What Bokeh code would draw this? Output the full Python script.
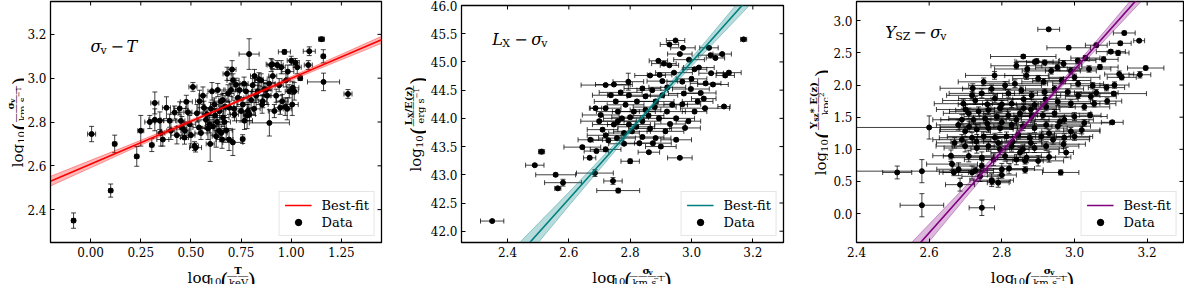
import numpy as np
from bokeh.plotting import figure
from bokeh.models import (ColumnDataSource, Range1d, FixedTicker, PrintfTickFormatter,
                          Label, Legend, LegendItem)
from bokeh.layouts import row, column
from bokeh.embed import file_html
from bokeh.resources import INLINE

# ---------------- data ----------------
# panel 1: sigma_v - T   (log T/keV, log sigma, xerr, yerr)
sigT_points = [
    (-0.085, 2.350, 0.010, 0.035), (0.005, 2.745, 0.020, 0.035), (0.100, 2.487, 0.010, 0.030),
    (0.120, 2.700, 0.010, 0.040), (0.230, 2.643, 0.010, 0.045), (0.250, 2.760, 0.015, 0.070),
    (0.295, 2.800, 0.025, 0.030), (0.305, 2.695, 0.010, 0.030), (0.320, 2.887, 0.020, 0.050),
    (0.320, 2.810, 0.030, 0.050), (0.345, 2.806, 0.020, 0.040), (0.350, 2.750, 0.020, 0.060),
    (0.360, 2.720, 0.030, 0.030), (0.378, 2.865, 0.020, 0.050), (0.394, 2.806, 0.030, 0.030),
    (0.400, 2.760, 0.020, 0.040), (0.419, 2.843, 0.020, 0.030), (0.430, 2.740, 0.030, 0.040),
    (0.444, 2.862, 0.030, 0.030), (0.450, 2.805, 0.020, 0.040), (0.455, 2.775, 0.025, 0.050),
    (0.468, 2.729, 0.020, 0.030), (0.477, 2.892, 0.030, 0.030), (0.485, 2.845, 0.020, 0.050),
    (0.494, 2.790, 0.030, 0.040), (0.510, 2.960, 0.020, 0.020), (0.518, 2.690, 0.020, 0.020),
    (0.523, 2.683, 0.030, 0.020), (0.530, 2.840, 0.030, 0.040), (0.543, 2.895, 0.020, 0.050),
    (0.550, 2.750, 0.030, 0.030), (0.560, 2.920, 0.020, 0.040), (0.565, 2.865, 0.030, 0.030),
    (0.575, 2.810, 0.040, 0.040), (0.580, 2.835, 0.020, 0.030), (0.585, 2.770, 0.030, 0.050),
    (0.593, 2.790, 0.020, 0.040), (0.596, 2.700, 0.020, 0.080), (0.600, 2.860, 0.030, 0.030),
    (0.605, 2.940, 0.020, 0.040), (0.610, 2.780, 0.030, 0.040), (0.618, 2.880, 0.020, 0.030),
    (0.620, 2.830, 0.040, 0.030), (0.626, 2.735, 0.020, 0.050), (0.630, 2.800, 0.030, 0.040),
    (0.634, 2.946, 0.030, 0.030), (0.640, 2.760, 0.020, 0.030), (0.643, 2.850, 0.020, 0.040),
    (0.650, 2.895, 0.040, 0.030), (0.651, 2.750, 0.030, 0.040), (0.659, 2.900, 0.020, 0.030),
    (0.660, 2.820, 0.030, 0.040), (0.667, 2.800, 0.030, 0.030), (0.670, 2.870, 0.020, 0.050),
    (0.676, 2.762, 0.030, 0.040), (0.680, 3.020, 0.020, 0.030), (0.685, 2.930, 0.030, 0.040),
    (0.692, 2.865, 0.020, 0.030), (0.700, 2.946, 0.030, 0.030), (0.705, 3.040, 0.020, 0.040),
    (0.709, 2.707, 0.050, 0.060), (0.710, 2.990, 0.030, 0.030), (0.715, 2.860, 0.040, 0.040),
    (0.717, 2.835, 0.020, 0.030), (0.725, 2.970, 0.030, 0.030), (0.734, 2.910, 0.030, 0.040),
    (0.742, 2.946, 0.020, 0.030), (0.750, 2.850, 0.030, 0.050), (0.758, 2.722, 0.010, 0.020),
    (0.759, 2.880, 0.030, 0.030), (0.765, 2.975, 0.020, 0.030), (0.767, 2.806, 0.040, 0.040),
    (0.775, 2.940, 0.030, 0.030), (0.780, 2.830, 0.020, 0.060), (0.784, 2.850, 0.030, 0.030),
    (0.790, 3.110, 0.050, 0.070), (0.792, 2.835, 0.030, 0.030), (0.800, 2.900, 0.020, 0.040),
    (0.808, 2.968, 0.030, 0.030), (0.815, 2.860, 0.030, 0.030), (0.817, 3.010, 0.020, 0.030),
    (0.825, 2.920, 0.040, 0.030), (0.833, 2.940, 0.030, 0.040), (0.840, 2.995, 0.020, 0.030),
    (0.850, 2.990, 0.030, 0.030), (0.855, 2.880, 0.030, 0.040), (0.858, 2.895, 0.020, 0.030),
    (0.865, 2.950, 0.030, 0.030), (0.874, 2.946, 0.030, 0.030), (0.880, 2.920, 0.020, 0.040),
    (0.890, 2.975, 0.030, 0.030), (0.891, 2.796, 0.100, 0.060), (0.900, 3.060, 0.020, 0.030),
    (0.905, 3.064, 0.030, 0.020), (0.908, 3.010, 0.020, 0.030), (0.916, 2.850, 0.030, 0.030),
    (0.925, 2.920, 0.030, 0.030), (0.930, 3.060, 0.030, 0.020), (0.940, 2.968, 0.020, 0.030),
    (0.945, 2.865, 0.030, 0.030), (0.950, 3.050, 0.020, 0.030), (0.955, 2.895, 0.030, 0.030),
    (0.966, 3.120, 0.030, 0.010), (0.970, 2.870, 0.030, 0.040), (0.974, 2.990, 0.020, 0.030),
    (0.980, 2.860, 0.020, 0.050), (0.983, 3.030, 0.030, 0.030), (0.990, 2.940, 0.020, 0.030),
    (1.000, 3.080, 0.020, 0.020), (1.005, 2.880, 0.030, 0.050), (1.008, 2.956, 0.030, 0.030),
    (1.015, 2.940, 0.020, 0.040), (1.020, 3.070, 0.020, 0.020), (1.030, 3.050, 0.020, 0.030),
    (1.045, 3.000, 0.010, 0.010), (1.085, 3.060, 0.020, 0.020), (1.090, 3.123, 0.030, 0.020),
    (1.151, 3.178, 0.015, 0.010), (1.160, 3.100, 0.010, 0.030), (1.161, 2.983, 0.080, 0.040),
    (1.283, 2.928, 0.020, 0.020), (0.500, 2.740, 0.020, 0.040), (0.540, 2.775, 0.030, 0.030),
    (0.470, 2.760, 0.020, 0.040), (0.655, 2.720, 0.030, 0.040), (0.690, 2.720, 0.020, 0.050),
]

# panel 2: L_X - sigma_v   (log sigma, log Lx/E(z), xerr, yerr)
lxs_points = [
    (2.350, 42.18, 0.038, 0.02), (2.511, 43.41, 0.010, 0.04), (2.489, 43.17, 0.030, 0.02),
    (2.557, 43.00, 0.065, 0.03), (2.581, 42.86, 0.060, 0.06), (2.564, 42.76, 0.010, 0.03),
    (2.685, 43.03, 0.060, 0.06), (2.744, 42.89, 0.030, 0.06), (2.761, 42.72, 0.070, 0.04),
    (2.800, 43.24, 0.030, 0.04), (2.861, 43.40, 0.035, 0.02), (2.962, 43.30, 0.040, 0.02),
    (3.170, 45.40, 0.010, 0.03), (2.948, 45.38, 0.030, 0.02), (2.928, 45.31, 0.030, 0.02),
    (2.972, 45.25, 0.040, 0.02), (2.962, 45.14, 0.040, 0.02), (3.057, 45.25, 0.030, 0.02),
    (3.100, 45.14, 0.030, 0.02), (3.078, 45.07, 0.030, 0.02), (3.062, 45.12, 0.040, 0.02),
    (2.892, 45.02, 0.030, 0.02), (2.910, 44.97, 0.040, 0.02), (2.928, 44.94, 0.030, 0.02),
    (2.992, 45.04, 0.050, 0.02), (3.024, 44.90, 0.050, 0.02), (3.010, 44.87, 0.040, 0.02),
    (2.943, 44.81, 0.060, 0.02), (2.865, 44.76, 0.050, 0.02), (2.896, 44.77, 0.040, 0.02),
    (3.064, 44.80, 0.040, 0.02), (3.122, 44.81, 0.040, 0.03), (3.110, 44.76, 0.030, 0.03),
    (2.720, 44.59, 0.080, 0.02), (2.747, 44.60, 0.060, 0.02), (2.794, 44.65, 0.050, 0.15),
    (2.769, 44.46, 0.070, 0.03), (2.687, 44.18, 0.020, 0.03), (3.106, 44.21, 0.020, 0.02),
    (3.044, 44.18, 0.080, 0.02), (2.979, 43.83, 0.050, 0.02), (2.729, 43.61, 0.050, 0.03),
    (2.699, 43.95, 0.060, 0.03), (2.644, 43.49, 0.060, 0.03), (2.668, 43.30, 0.020, 0.03),
    (2.690, 43.42, 0.040, 0.03), (2.720, 43.45, 0.050, 0.04), (2.710, 43.80, 0.050, 0.03),
    (2.747, 43.89, 0.070, 0.03), (2.773, 44.00, 0.060, 0.03), (2.812, 44.12, 0.070, 0.03),
    (2.840, 43.95, 0.060, 0.03), (2.865, 43.82, 0.070, 0.03), (2.894, 44.00, 0.050, 0.03),
    (2.920, 44.12, 0.060, 0.03), (2.937, 44.24, 0.050, 0.03), (2.975, 44.44, 0.050, 0.03),
    (2.998, 44.52, 0.060, 0.03), (3.020, 44.30, 0.050, 0.03), (3.010, 44.12, 0.040, 0.03),
    (2.950, 44.00, 0.060, 0.03), (2.915, 43.77, 0.060, 0.03), (2.883, 43.65, 0.050, 0.03),
    (2.840, 43.67, 0.070, 0.03), (2.806, 43.77, 0.060, 0.03), (2.780, 43.74, 0.050, 0.03),
    (2.757, 43.65, 0.060, 0.03), (2.830, 43.56, 0.050, 0.03), (2.874, 43.56, 0.060, 0.03),
    (2.760, 44.12, 0.070, 0.03), (2.785, 44.24, 0.060, 0.03), (2.822, 44.30, 0.070, 0.03),
    (2.850, 44.39, 0.060, 0.03), (2.872, 44.50, 0.050, 0.03), (2.840, 44.53, 0.060, 0.03),
    (2.796, 44.41, 0.070, 0.03), (2.883, 44.30, 0.060, 0.03), (2.905, 44.41, 0.050, 0.03),
    (2.921, 44.55, 0.060, 0.03), (2.905, 44.66, 0.050, 0.03), (3.046, 44.62, 0.050, 0.03),
    (2.737, 44.41, 0.060, 0.03), (2.753, 44.30, 0.070, 0.03), (2.720, 44.18, 0.050, 0.03),
    (2.704, 44.06, 0.060, 0.03), (2.760, 43.95, 0.060, 0.03), (2.796, 43.89, 0.070, 0.03),
    (2.900, 43.50, 0.050, 0.03), (2.950, 43.62, 0.050, 0.03), (2.990, 43.95, 0.040, 0.03),
    (3.030, 44.45, 0.050, 0.03), (3.070, 44.60, 0.050, 0.03), (2.970, 44.65, 0.050, 0.03),
    (2.860, 44.05, 0.050, 0.03), (2.820, 43.85, 0.060, 0.03), (2.930, 43.90, 0.050, 0.03),
    (2.970, 44.25, 0.060, 0.03), (2.800, 44.02, 0.060, 0.03), (2.880, 44.20, 0.070, 0.03),
    (2.850, 44.15, 0.050, 0.03), (2.780, 43.55, 0.050, 0.03), (2.720, 43.70, 0.060, 0.03),
    (2.670, 43.62, 0.040, 0.03), (3.000, 44.70, 0.050, 0.03), (3.040, 44.35, 0.040, 0.03),
]

# panel 3: Y_SZ - sigma_v   (log sigma, log Ysz E(z), xerr, yerr)
ysz_points = [
    (2.929, 2.867, 0.030, 0.02), (3.137, 2.810, 0.030, 0.03), (3.178, 2.690, 0.015, 0.02),
    (3.126, 2.650, 0.030, 0.03), (2.984, 2.580, 0.060, 0.03), (3.060, 2.620, 0.030, 0.03),
    (3.100, 2.520, 0.040, 0.03), (2.859, 2.444, 0.090, 0.03), (2.891, 2.360, 0.050, 0.03),
    (3.196, 2.265, 0.050, 0.03), (3.123, 2.170, 0.040, 0.05), (3.180, 2.160, 0.030, 0.05),
    (3.108, 1.867, 0.090, 0.03), (3.104, 1.420, 0.030, 0.03), (3.043, 1.530, 0.030, 0.04),
    (2.977, 0.950, 0.020, 0.08), (2.962, 0.640, 0.050, 0.04), (2.600, 1.340, 0.230, 0.18),
    (2.512, 0.640, 0.040, 0.10), (2.580, 0.660, 0.180, 0.18), (2.580, 0.130, 0.060, 0.18),
    (2.745, 0.090, 0.035, 0.12), (2.685, 0.450, 0.040, 0.10), (2.790, 0.480, 0.030, 0.07),
    (2.773, 0.500, 0.050, 0.05), (2.668, 0.640, 0.040, 0.05), (2.727, 0.670, 0.050, 0.05),
    (2.800, 0.600, 0.040, 0.05), (2.864, 0.680, 0.050, 0.05), (2.864, 0.820, 0.050, 0.05),
    (2.953, 2.276, 0.060, 0.05), (2.970, 2.330, 0.050, 0.05), (3.009, 2.380, 0.050, 0.04),
    (3.030, 2.420, 0.040, 0.04), (2.990, 2.220, 0.070, 0.05), (2.936, 2.220, 0.080, 0.05),
    (2.868, 2.147, 0.060, 0.06), (2.900, 2.100, 0.070, 0.05), (2.836, 2.020, 0.090, 0.06),
    (2.915, 2.050, 0.060, 0.05), (2.965, 2.070, 0.080, 0.05), (3.010, 2.020, 0.070, 0.05),
    (3.050, 1.990, 0.060, 0.05), (3.088, 1.960, 0.050, 0.05), (3.130, 2.120, 0.040, 0.04),
    (2.809, 1.994, 0.100, 0.06), (2.772, 1.940, 0.080, 0.06), (2.745, 1.870, 0.090, 0.07),
    (2.718, 1.840, 0.070, 0.06), (2.694, 1.710, 0.080, 0.07), (2.727, 1.760, 0.090, 0.06),
    (2.781, 1.790, 0.100, 0.06), (2.818, 1.870, 0.080, 0.06), (2.854, 1.920, 0.090, 0.05),
    (2.882, 1.840, 0.080, 0.06), (2.918, 1.890, 0.070, 0.05), (2.945, 1.940, 0.080, 0.05),
    (2.981, 1.890, 0.070, 0.05), (3.010, 1.840, 0.060, 0.05), (3.045, 1.820, 0.070, 0.05),
    (3.054, 1.710, 0.060, 0.05), (3.027, 1.660, 0.070, 0.05), (2.990, 1.710, 0.080, 0.06),
    (2.954, 1.740, 0.090, 0.06), (2.922, 1.660, 0.080, 0.06), (2.890, 1.690, 0.100, 0.06),
    (2.860, 1.640, 0.090, 0.06), (2.827, 1.710, 0.080, 0.06), (2.795, 1.640, 0.100, 0.07),
    (2.763, 1.610, 0.090, 0.07), (2.736, 1.590, 0.080, 0.07), (2.709, 1.560, 0.070, 0.08),
    (2.690, 1.460, 0.080, 0.08), (2.722, 1.460, 0.090, 0.07), (2.754, 1.480, 0.100, 0.07),
    (2.786, 1.510, 0.090, 0.06), (2.818, 1.530, 0.080, 0.06), (2.850, 1.560, 0.100, 0.06),
    (2.882, 1.510, 0.090, 0.06), (2.913, 1.530, 0.080, 0.06), (2.945, 1.560, 0.100, 0.06),
    (2.972, 1.460, 0.080, 0.06), (3.000, 1.510, 0.090, 0.06), (3.027, 1.410, 0.070, 0.05),
    (2.954, 1.360, 0.090, 0.06), (2.922, 1.380, 0.100, 0.06), (2.890, 1.330, 0.090, 0.07),
    (2.858, 1.360, 0.080, 0.07), (2.827, 1.380, 0.100, 0.07), (2.795, 1.330, 0.090, 0.07),
    (2.763, 1.330, 0.080, 0.07), (2.731, 1.310, 0.100, 0.08), (2.699, 1.280, 0.070, 0.08),
    (2.690, 1.150, 0.080, 0.08), (2.718, 1.180, 0.090, 0.08), (2.750, 1.200, 0.100, 0.07),
    (2.781, 1.180, 0.090, 0.07), (2.813, 1.200, 0.080, 0.07), (2.845, 1.230, 0.100, 0.07),
    (2.877, 1.180, 0.090, 0.07), (2.909, 1.200, 0.080, 0.07), (2.941, 1.150, 0.100, 0.07),
    (2.972, 1.180, 0.070, 0.06), (2.990, 1.280, 0.080, 0.06), (2.699, 1.050, 0.080, 0.09),
    (2.731, 1.020, 0.090, 0.08), (2.763, 1.050, 0.100, 0.08), (2.795, 1.000, 0.080, 0.08),
    (2.827, 1.050, 0.090, 0.08), (2.858, 1.000, 0.100, 0.07), (2.890, 1.020, 0.080, 0.07),
    (2.922, 1.050, 0.090, 0.07), (2.709, 0.895, 0.070, 0.09), (2.745, 0.870, 0.090, 0.09),
    (2.777, 0.840, 0.080, 0.09), (2.809, 0.895, 0.100, 0.08), (2.840, 0.840, 0.090, 0.08),
    (2.868, 0.870, 0.080, 0.08), (2.900, 0.820, 0.070, 0.08), (2.681, 0.690, 0.060, 0.10),
    (2.718, 0.640, 0.080, 0.10), (2.772, 0.520, 0.060, 0.10), (2.663, 0.770, 0.070, 0.10),
    (2.745, 0.740, 0.080, 0.09), (2.800, 0.690, 0.070, 0.09), (2.896, 2.370, 0.060, 0.04),
    (2.918, 2.350, 0.050, 0.04), (2.840, 2.300, 0.070, 0.05), (2.870, 2.250, 0.090, 0.05),
    (2.780, 2.150, 0.080, 0.06), (2.750, 2.050, 0.070, 0.06), (3.070, 2.280, 0.050, 0.04),
    (3.080, 2.400, 0.040, 0.04), (3.120, 2.500, 0.030, 0.04), (3.040, 2.250, 0.060, 0.05),
    (3.000, 2.120, 0.070, 0.05), (3.110, 2.000, 0.040, 0.05), (3.060, 1.880, 0.060, 0.05),
    (3.090, 1.750, 0.040, 0.05), (2.930, 0.880, 0.060, 0.08), (2.970, 1.080, 0.060, 0.07),
    (3.000, 1.200, 0.050, 0.06), (3.020, 1.300, 0.050, 0.06), (2.700, 1.620, 0.080, 0.07),
    (2.720, 1.950, 0.090, 0.07), (2.670, 1.100, 0.050, 0.08), (2.660, 0.900, 0.050, 0.09),
    (2.740, 0.580, 0.050, 0.08), (2.820, 0.700, 0.070, 0.08), (2.850, 0.950, 0.080, 0.08),
    (2.880, 1.100, 0.080, 0.07), (2.930, 1.250, 0.090, 0.06), (2.960, 1.430, 0.080, 0.06),
    (2.840, 1.460, 0.090, 0.06), (2.800, 1.420, 0.090, 0.07), (2.760, 1.400, 0.080, 0.07),
    (2.880, 1.620, 0.080, 0.06), (2.920, 1.780, 0.090, 0.06), (2.860, 1.780, 0.090, 0.06),
    (2.800, 1.700, 0.100, 0.06), (2.760, 1.700, 0.080, 0.07), (2.830, 1.120, 0.080, 0.07),
    (2.790, 1.100, 0.090, 0.07), (2.730, 1.120, 0.070, 0.08), (2.710, 1.350, 0.080, 0.08),
    (2.680, 1.380, 0.060, 0.08),
]

# best-fit lines with their confidence bands (x nodes, lower, centre, upper)
fit1_x = [-0.20, 0.20, 0.65, 1.10, 1.45]
fit1_mid = [2.530, 2.686, 2.862, 3.038, 3.175]
fit1_lo = [2.508, 2.674, 2.858, 3.028, 3.159]
fit1_hi = [2.552, 2.698, 2.866, 3.048, 3.191]

fit2_x = [2.40, 2.60, 2.85, 3.05, 3.25]
fit2_mid = [41.36, 42.57, 44.09, 45.30, 46.52]
fit2_lo = [41.14, 42.45, 44.06, 45.21, 46.35]
fit2_hi = [41.58, 42.69, 44.12, 45.39, 46.69]

fit3_x = [2.50, 2.70, 2.88, 3.05, 3.20]
fit3_mid = [-0.935, 0.335, 1.478, 2.558, 3.510]
fit3_lo = [-1.115, 0.245, 1.448, 2.498, 3.400]
fit3_hi = [-0.755, 0.425, 1.508, 2.618, 3.620]

# axes
p1_xticks = [0.0, 0.25, 0.5, 0.75, 1.0, 1.25]
p1_yticks = [2.4, 2.6, 2.8, 3.0, 3.2]
p2_xticks = [2.4, 2.6, 2.8, 3.0, 3.2]
p2_yticks = [42.0, 42.5, 43.0, 43.5, 44.0, 44.5, 45.0, 45.5, 46.0]
p3_xticks = [2.4, 2.6, 2.8, 3.0, 3.2]
p3_yticks = [0.0, 0.5, 1.0, 1.5, 2.0, 2.5, 3.0]

FONT = "DejaVu Serif"

# approximate DejaVu Serif advance widths (em)
W = {"0": .636, "1": .636, "2": .636, "(": .39, ")": .39, " ": .318, "/": .337, "*": .5,
     "a": .596, "c": .56, "e": .592, "g": .64, "k": .606, "l": .32, "m": .948, "o": .602,
     "p": .64, "r": .478, "s": .513, "v": .565, "z": .53, "E": .715, "L": .653, "T": .685,
     "V": .722, "X": .716, "Y": .686, "σ": .63, "−": .838}

BOTTOM_BORDER = 20   # room for the x tick labels
XLAB_H = 22          # strip holding the x-axis label
PANEL_H = 284 - XLAB_H


def run_w(runs):
    return sum(sum(W.get(c, .62) for c in t) * s * (1.1 if b else 1.0) for t, s, b, dv in runs)


def label_fig(w, h):
    f = figure(width=w, height=h, x_range=Range1d(0, w), y_range=Range1d(0, h),
               x_axis_type=None, y_axis_type=None, toolbar_location=None,
               output_backend="svg", min_border=0)
    f.outline_line_color = None
    f.background_fill_color = "white"
    f.border_fill_color = "white"
    return f


def frac_axis_label(f, ax, ay, num, den, vertical):
    """log10( num / den ) with a stacked fraction; (ax, ay) = baseline anchor in px."""
    items = []
    log_runs = [("log", 15, False, 0), ("10", 10, False, -4)]
    nw, dw = run_w(num), run_w(den)
    fw = max(nw, dw) + 3
    pw = 0.39 * 22
    total = run_w(log_runs) + pw + fw + pw
    u = -total / 2
    for t, s, b, dv in log_runs:
        items.append((t, s, b, u, dv, "left"))
        u += run_w([(t, s, b, dv)])
    items.append(("(", 22, False, u, -4, "left"))
    u += pw
    cx = u + fw / 2
    uu = cx - nw / 2
    for t, s, b, dv in num:
        items.append((t, s, b, uu, 7 + dv, "left"))
        uu += run_w([(t, s, b, dv)])
    nd = max(1, int(round(fw / 9)))
    bs = fw / nd
    items.append(("—" * nd, bs, False, cx, 4.5 - 0.27 * bs, "center"))
    uu = cx - dw / 2
    for t, s, b, dv in den:
        items.append((t, s, b, uu, -4.5 + dv, "left"))
        uu += run_w([(t, s, b, dv)])
    u += fw
    items.append((")", 22, False, u, -4, "left"))
    for t, s, b, uu, v, al in items:
        if vertical:
            x, y, ang = ax - v, ay + uu, np.pi / 2
        else:
            x, y, ang = ax + uu, ay + v, 0.0
        f.add_layout(Label(x=x, y=y, angle=ang, text=t,
                           text_font=FONT, text_font_size=f"{s:.1f}px",
                           text_font_style="bold" if b else "normal", text_color="black",
                           text_baseline="alphabetic", text_align=al))


def make_panel(width, bl, br, bt, xr, yr, xt, yt, xfmt, yfmt):
    p = figure(width=width, height=PANEL_H, x_range=Range1d(*xr), y_range=Range1d(*yr),
               output_backend="svg", toolbar_location=None,
               min_border_left=bl, min_border_right=br, min_border_top=bt,
               min_border_bottom=BOTTOM_BORDER)
    p.xgrid.visible = False
    p.ygrid.visible = False
    p.outline_line_color = "black"
    p.outline_line_width = 1.3
    p.outline_line_alpha = 1.0
    p.background_fill_color = "white"
    p.border_fill_color = "white"
    for ax, ticks, fmt in ((p.xaxis[0], xt, xfmt), (p.yaxis[0], yt, yfmt)):
        ax.ticker = FixedTicker(ticks=ticks)
        ax.formatter = PrintfTickFormatter(format=fmt)
        ax.major_tick_in = 4
        ax.major_tick_out = 0
        ax.minor_tick_line_color = None
        ax.axis_line_color = "black"
        ax.major_tick_line_color = "black"
        ax.major_label_text_font = FONT
        ax.major_label_text_font_size = "12px"
        ax.major_label_text_color = "black"
        ax.major_label_standoff = 4
    # inward ticks on the top and right frame edges (half of each dash is clipped away)
    p.scatter(x=xt, y=[yr[1]] * len(xt), marker="dash", angle=np.pi / 2, size=8,
              line_color="black", line_width=1)
    p.scatter(x=[xr[1]] * len(yt), y=yt, marker="dash", size=8, line_color="black", line_width=1)
    return p


def draw_data(p, pts):
    arr = np.array(pts, dtype=float)
    x, y, xe, ye = arr[:, 0], arr[:, 1], arr[:, 2], arr[:, 3]
    src = ColumnDataSource(dict(x=x, y=y, xl=x - xe, xh=x + xe, yl=y - ye, yh=y + ye))
    kw = dict(line_color="black", line_width=1, line_alpha=0.75, source=src)
    p.segment(x0="xl", y0="y", x1="xh", y1="y", **kw)
    p.segment(x0="x", y0="yl", x1="x", y1="yh", **kw)
    p.scatter(x="xl", y="y", marker="dash", angle=np.pi / 2, size=5, **kw)
    p.scatter(x="xh", y="y", marker="dash", angle=np.pi / 2, size=5, **kw)
    p.scatter(x="x", y="yl", marker="dash", size=5, **kw)
    p.scatter(x="x", y="yh", marker="dash", size=5, **kw)
    r = p.scatter(x="x", y="y", size=5, fill_color="black", line_color="black", source=src)
    # legend-only glyph: an error-bar cross (its one row has no position, so nothing is plotted)
    leg_src = ColumnDataSource(dict(x=[np.nan], y=[np.nan]))
    cross = p.scatter(x="x", y="y", source=leg_src, marker="cross", size=16,
                      line_color="black", line_width=1)
    return [cross, r]


def draw_fit(p, fx, lo, mid, hi, color):
    p.varea(x=fx, y1=lo, y2=hi, fill_color=color, fill_alpha=0.28)
    p.line(x=fx, y=lo, line_color=color, line_alpha=0.45, line_width=0.8)
    p.line(x=fx, y=hi, line_color=color, line_alpha=0.45, line_width=0.8)
    return p.line(x=fx, y=mid, line_color=color, line_width=1.6)


def add_legend(p, fit_r, data_rs):
    leg = Legend(items=[LegendItem(label="Best-fit", renderers=[fit_r]),
                        LegendItem(label="Data", renderers=data_rs)],
                 location="bottom_right")
    leg.label_text_font = FONT
    leg.label_text_font_size = "13px"
    leg.label_text_color = "black"
    leg.border_line_color = "#cccccc"
    leg.border_line_width = 1
    leg.background_fill_alpha = 0.8
    leg.margin = 6
    leg.padding = 5
    leg.spacing = 1
    leg.glyph_width = 27
    leg.glyph_height = 16
    leg.label_height = 16
    leg.label_standoff = 10
    p.add_layout(leg)


def add_math(p, x, y, parts):
    for text, dx, dy, size, style in parts:
        p.add_layout(Label(x=x, y=y, x_offset=dx, y_offset=dy, text=text,
                           text_font=FONT, text_font_size=f"{size}px", text_font_style=style,
                           text_color="black", text_baseline="alphabetic", text_align="left"))


def build(width, bl, br, bt, xr, yr, xt, yt, xfmt, yfmt, ylab_w, ylab_base, xnum, xden,
          ynum, yden):
    p = make_panel(width, bl, br, bt, xr, yr, xt, yt, xfmt, yfmt)
    xl = label_fig(width, XLAB_H)
    frame_w = width - bl - br
    frac_axis_label(xl, bl + frame_w / 2, 7, xnum, xden, False)
    yl = label_fig(ylab_w, 284)
    frame_h = PANEL_H - bt - BOTTOM_BORDER
    frac_axis_label(yl, ylab_base, 284 - (bt + frame_h / 2), ynum, yden, True)
    return p, yl, column(p, xl)


SIG_NUM = [("σ", 10, True, 0), ("v", 7, True, -2)]
KMS_DEN = [("km s", 10, False, 0), ("−1", 7, False, 4)]

# ---------------- panel 1 ----------------
xr1, yr1 = (-0.2, 1.45), (2.25, 3.35)
p1, yl1, c1 = build(370, 25, 13, 1, xr1, yr1, p1_xticks, p1_yticks, "%.2f", "%.1f", 24, 17,
                    [("T", 10, True, 0)], [("keV", 10, False, 0)], SIG_NUM, KMS_DEN)
d1 = draw_data(p1, sigT_points)
f1 = draw_fit(p1, fit1_x, fit1_lo, fit1_mid, fit1_hi, "red")
add_legend(p1, f1, d1)
add_math(p1, 0.0, 3.145, [("σ", 0, 0, 16, "italic"), ("v", 10, -4, 11, "normal"),
                          ("−", 20, 0, 16, "normal"), ("T", 36, 0, 16, "italic")])

# ---------------- panel 2 ----------------
xr2, yr2 = (2.25, 3.3), (41.8, 46.0)
p2, yl2, c2 = build(371, 35, 14, 5, xr2, yr2, p2_xticks, p2_yticks, "%.1f", "%.1f", 32, 21,
                    SIG_NUM, KMS_DEN,
                    [("L", 10, True, 0), ("X", 7, True, -2), ("/E(z)", 10, True, 0)],
                    [("erg s", 10, False, 0), ("−1", 7, False, 4)])
d2 = draw_data(p2, lxs_points)
f2 = draw_fit(p2, fit2_x, fit2_lo, fit2_mid, fit2_hi, "teal")
add_legend(p2, f2, d2)
add_math(p2, 2.35, 45.40, [("L", 0, 0, 16, "italic"), ("X", 10, -4, 11, "normal"),
                           ("−", 22, 0, 16, "normal"), ("σ", 39, 0, 16, "italic"),
                           ("v", 49, -4, 11, "normal")])

# ---------------- panel 3 ----------------
xr3, yr3 = (2.4, 3.3), (-0.45, 3.3)
p3, yl3, c3 = build(356, 28, 1, 1, xr3, yr3, p3_xticks, p3_yticks, "%.1f", "%.1f", 31, 23,
                    SIG_NUM, KMS_DEN,
                    [("Y", 10, True, 0), ("sz", 7, True, -2), (" * E(z)", 10, True, 0)],
                    [("kpc", 10, False, 0), ("2", 7, False, 4)])
d3 = draw_data(p3, ysz_points)
f3 = draw_fit(p3, fit3_x, fit3_lo, fit3_mid, fit3_hi, "purple")
add_legend(p3, f3, d3)
add_math(p3, 2.479, 2.82, [("Y", 0, 0, 16, "italic"), ("SZ", 10, -4, 11, "normal"),
                           ("−", 28, 0, 16, "normal"), ("σ", 45, 0, 16, "italic"),
                           ("v", 55, -4, 11, "normal")])

layout = row(yl1, c1, yl2, c2, yl3, c3)
open("out.html", "w").write(file_html(layout, INLINE))
